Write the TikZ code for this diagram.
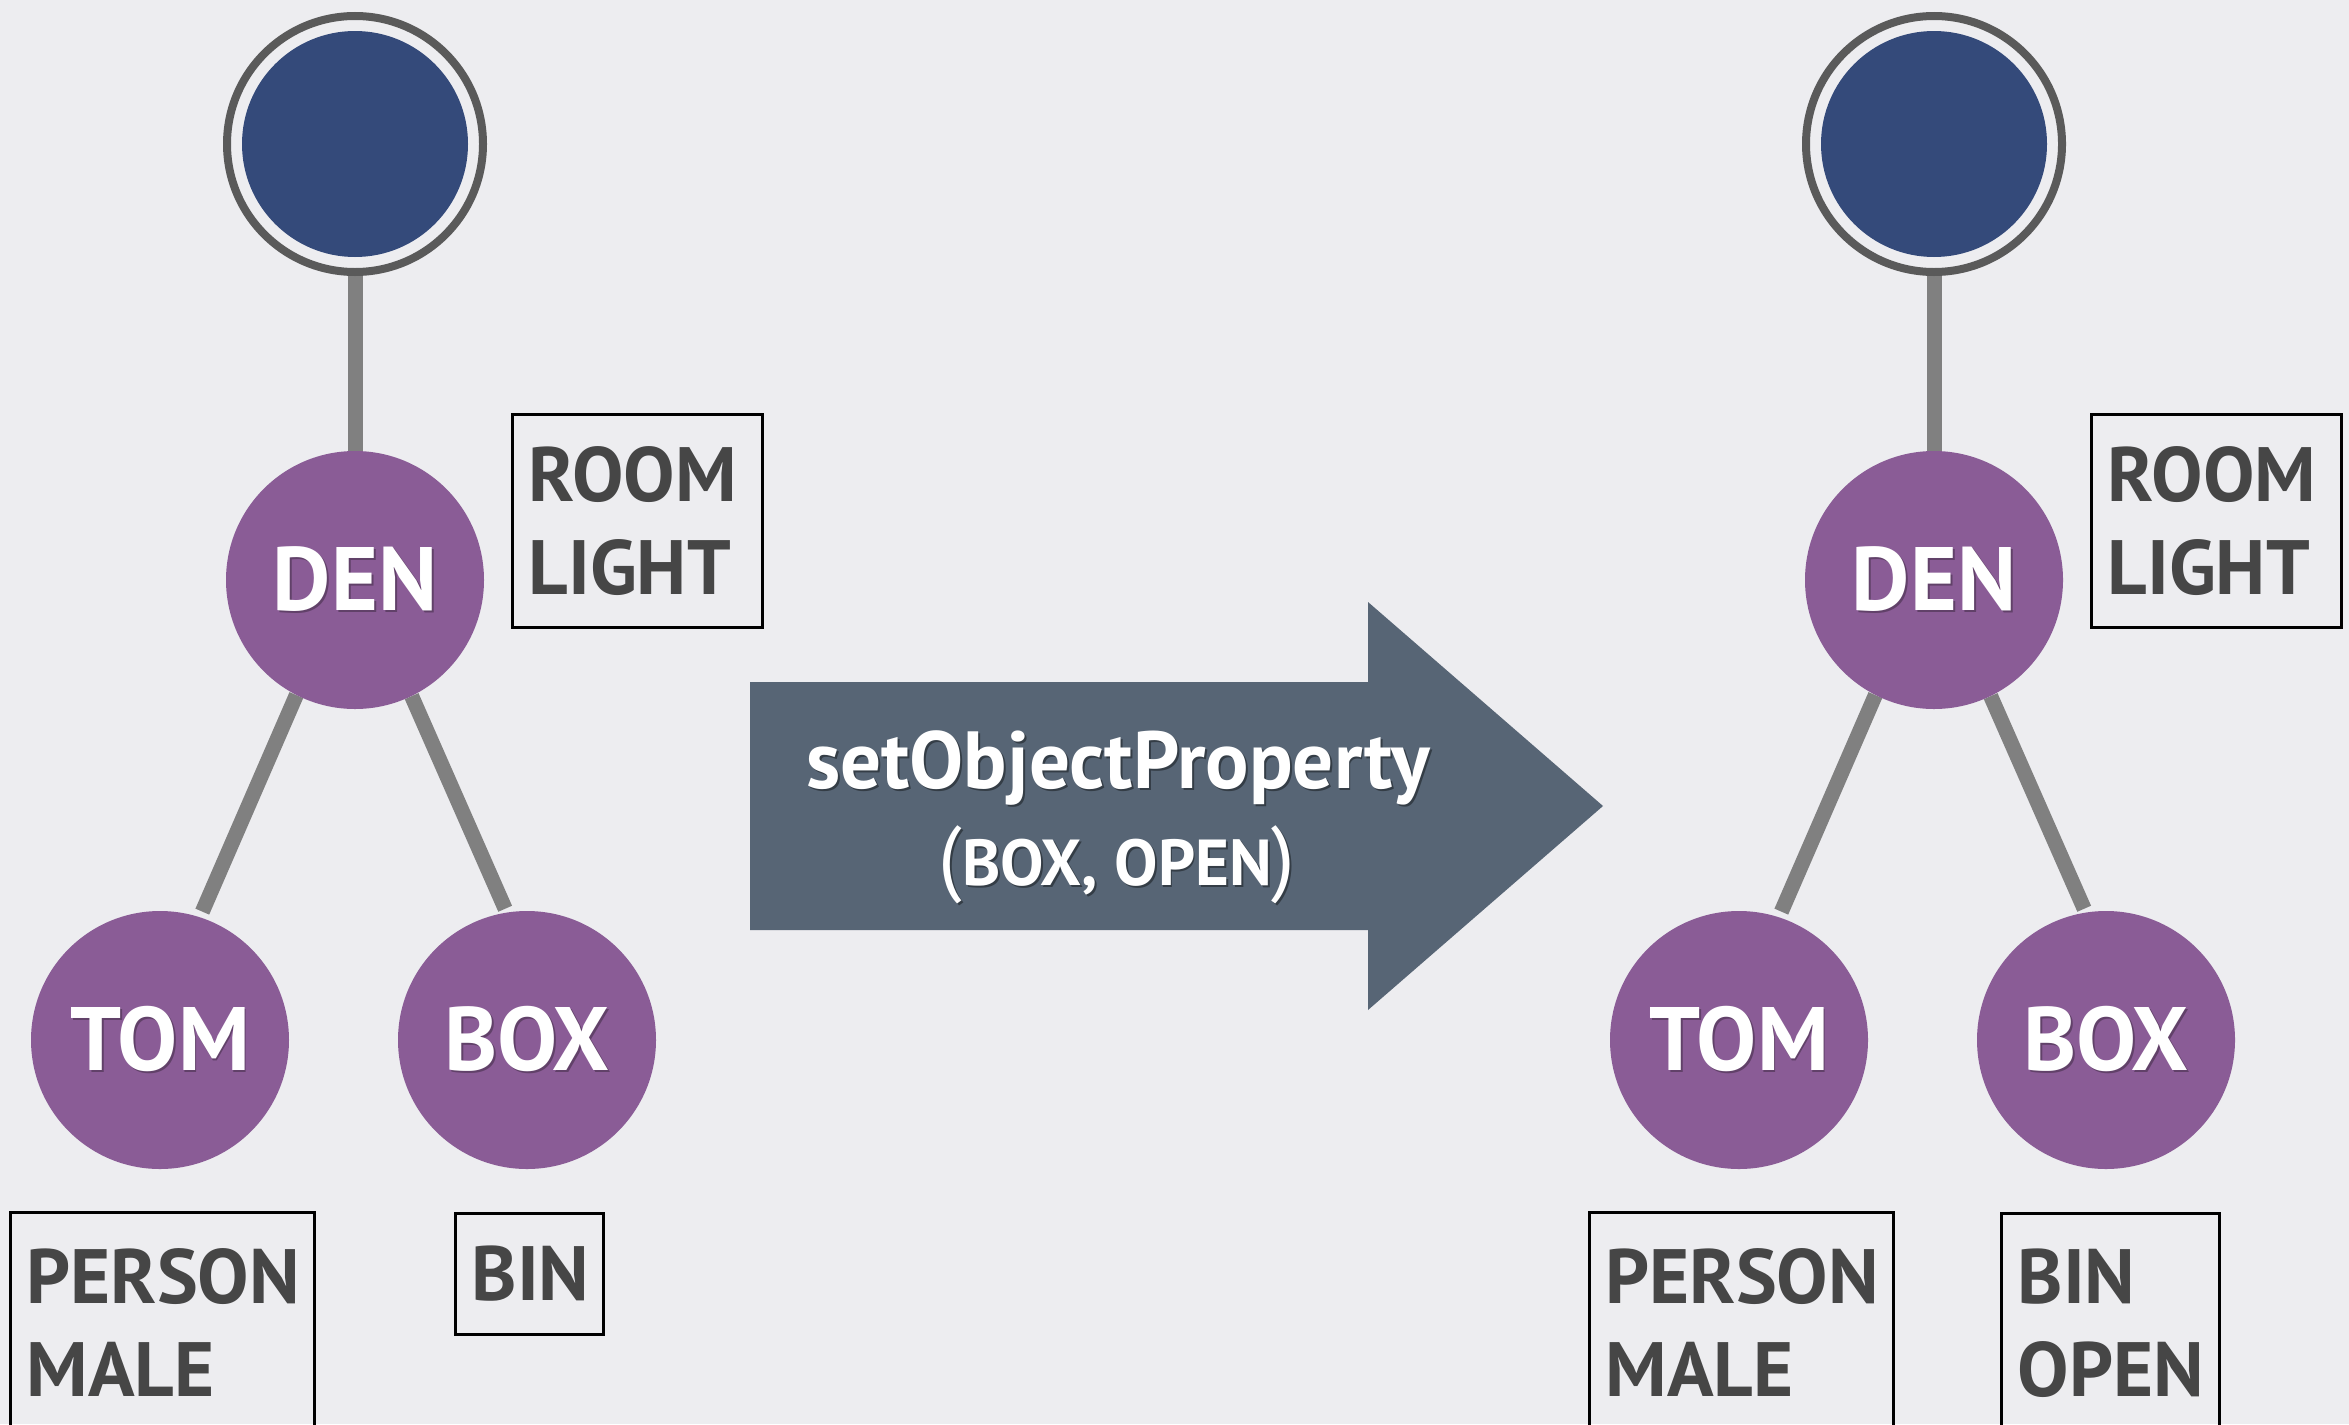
\documentclass[tikz,border=0pt]{standalone}
\usepackage{fontspec}
\setmainfont{PT Sans}
\usetikzlibrary{backgrounds}

\definecolor{paper}{RGB}{237,237,240}
\definecolor{nodepurple}{RGB}{138,92,150}
\definecolor{rootblue}{RGB}{52,74,122}
\definecolor{ringgray}{RGB}{90,90,90}
\definecolor{linkgray}{RGB}{128,128,128}
\definecolor{opslate}{RGB}{87,101,117}
\definecolor{boxtext}{RGB}{70,70,70}

% white lettering with a small offset shadow
\newcommand\shadowlabel[2]{\makebox[0pt][l]{\hspace{2pt}\raisebox{-2pt}{\color{#1}#2}}#2}

\tikzset{
  statenode/.style={circle, fill=nodepurple, minimum size=258pt, inner sep=0pt,
    text=white, font=\bfseries\fontsize{90}{100}\selectfont},
  rootdisc/.style={circle, fill=rootblue, minimum size=226pt, inner sep=0pt},
  rootring/.style={circle, draw=ringgray, line width=8pt, minimum size=256pt, inner sep=0pt},
  link/.style={draw=linkgray, line width=15pt},
  propbox/.style={draw=black, line width=3pt, inner xsep=16pt, inner ysep=0pt,
    align=left, anchor=north west, text=boxtext,
    font=\bfseries\fontsize{77}{93}\selectfont},
  optext/.style={text=white, inner sep=0pt, anchor=base},
}

% one world state: root, DEN, TOM, BOX and their property boxes
% #1 name suffix, #2 horizontal offset, #3 x of the BOX property box,
% #4 its width, #5 its height, #6 its text
\newcommand\drawstatetree[6]{%
  \begin{scope}[xshift=#2pt]
    \node[rootdisc] (root#1) at (355,144) {};
    \node[rootring] (ring#1) at (355,144) {};
    \node[statenode] (den#1) at (355,580) {\shadowlabel{nodepurple!70!black}{DEN}};
    \node[statenode] (tom#1) at (160,1040) {\shadowlabel{nodepurple!70!black}{TOM}};
    \node[statenode] (box#1) at (527,1040) {\shadowlabel{nodepurple!70!black}{BOX}};
    \begin{pgfonlayer}{background}
      \draw[link] (ring#1.south) -- (den#1.north);
      \draw[link, shorten >=6pt] (den#1.243) -- (tom#1.72);
      \draw[link, shorten >=4pt] (den#1.296) -- (box#1.99);
    \end{pgfonlayer}
    \node[propbox, minimum height=213pt, text width=218pt] (denprops#1) at (511,413) {ROOM\\LIGHT};
    \node[propbox, minimum height=219pt, text width=272pt] (tomprops#1) at (9,1211) {PERSON\\MALE};
    \node[propbox, minimum height=#5pt, text width=#4pt-32pt] (boxprops#1) at (#3,1212) {#6};
  \end{scope}}

\begin{document}
\begin{tikzpicture}[x=1pt, y=-1pt]
  \useasboundingbox (0,0) rectangle (2349,1424);
  \clip (0,0) rectangle (2349,1424);
  \begin{pgfonlayer}{background}
    \fill[paper] (0,0) rectangle (2349,1424);
  \end{pgfonlayer}

  \drawstatetree{L}{0}{454}{148}{121}{BIN}
  \drawstatetree{R}{1579}{421}{218}{219}{BIN\\OPEN}

  % the operation arrow between the two states
  \fill[opslate] (750,682) -- (1368,682) -- (1368,602) -- (1603,806)
    -- (1368,1010) -- (1368,930) -- (750,930) -- cycle;
  \node[optext, font=\bfseries\fontsize{81}{84}\selectfont] (opname) at (1118,788)
    {\shadowlabel{opslate!60!black}{setObjectProperty}};
  \node[optext] (opargs) at (1117,885)
    {\shadowlabel{opslate!60!black}{\fontsize{84}{84}\selectfont(\bfseries\fontsize{65}{84}\selectfont BOX, OPEN\mdseries\fontsize{84}{84}\selectfont)}};
\end{tikzpicture}
\end{document}
